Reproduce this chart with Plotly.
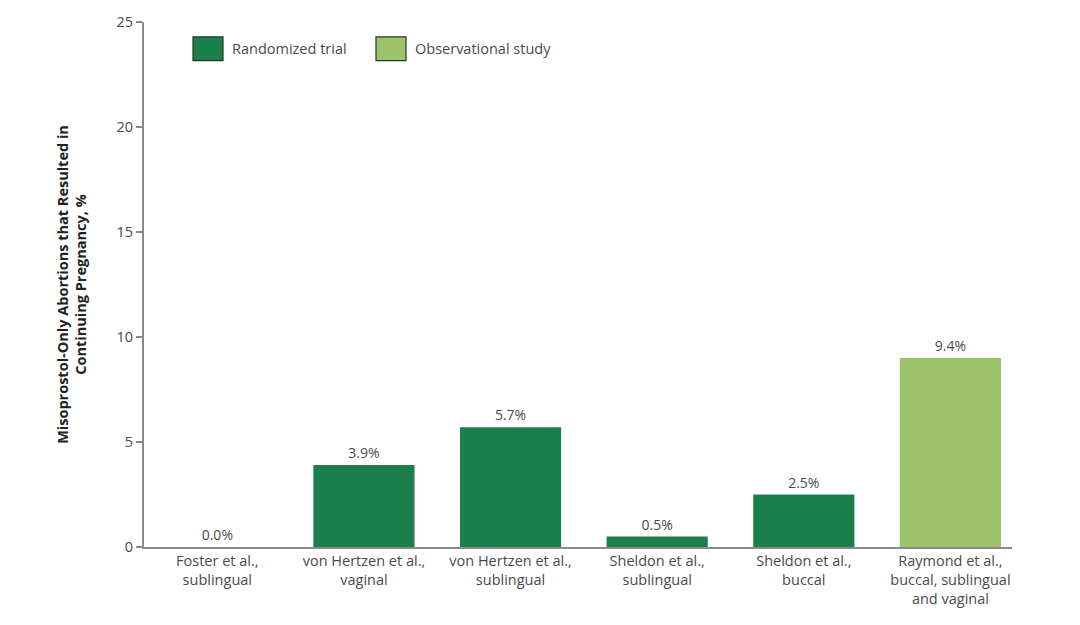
import plotly.graph_objects as go

categories = [
    "Foster et al.,<br>sublingual",
    "von Hertzen et al.,<br>vaginal",
    "von Hertzen et al.,<br>sublingual",
    "Sheldon et al.,<br>sublingual",
    "Sheldon et al.,<br>buccal",
    "Raymond et al.,<br>buccal, sublingual<br>and vaginal",
]
study_type = ["Randomized trial", "Randomized trial", "Randomized trial",
              "Randomized trial", "Randomized trial", "Observational study"]
bar_heights = [0.0, 3.9, 5.7, 0.5, 2.5, 9.0]
bar_labels = ["0.0%", "3.9%", "5.7%", "0.5%", "2.5%", "9.4%"]
y_ticks = [0, 5, 10, 15, 20, 25]
legend_names = ["Randomized trial", "Observational study"]

DARK = "#1b8049"
LIGHT = "#9cc36b"
colors = {"Randomized trial": DARK, "Observational study": LIGHT}
FONT = "Open Sans"
TXT = "#4a4a4a"

fig = go.Figure()
fig.add_trace(go.Bar(
    x=list(range(len(categories))),
    y=bar_heights,
    text=bar_labels,
    textposition="outside",
    cliponaxis=False,
    textfont=dict(family=FONT, size=14, color=TXT),
    marker=dict(color=[colors[s] for s in study_type], line=dict(width=0)),
    width=0.69,
    showlegend=False,
    hoverinfo="skip",
))

fig.update_layout(
    width=1080, height=625,
    margin=dict(l=144, r=68, t=18, b=78),
    paper_bgcolor="white", plot_bgcolor="white",
    font=dict(family=FONT, size=14, color=TXT),
)
fig.update_xaxes(
    range=[-0.50, 5.42],
    tickvals=list(range(len(categories))),
    ticktext=categories,
    showline=True, linecolor="#8a8a8a", linewidth=2,
    ticks="", showgrid=False, zeroline=False,
    tickfont=dict(family=FONT, size=14.5, color=TXT),
)
fig.update_yaxes(
    range=[0, 25],
    tickvals=y_ticks,
    showline=True, linecolor="#8a8a8a", linewidth=2,
    ticks="outside", ticklen=6, tickcolor="#8a8a8a", tickwidth=1.5,
    showgrid=False, zeroline=False,
    tickfont=dict(family=FONT, size=14.5, color=TXT),
    title=dict(
        text="<b>Misoprostol-Only Abortions that Resulted in<br>Continuing Pregnancy, %</b>",
        font=dict(family=FONT, size=14.5, color="#222"),
        standoff=26,
    ),
)

# custom legend
legend_x = [193, 376]
for name, lx in zip(legend_names, legend_x):
    fig.add_shape(type="rect", xref="paper", yref="paper",
                  x0=(lx - 144) / 868, x1=(lx + 30 - 144) / 868,
                  y0=(625 - 78 - 57) / 529, y1=(625 - 78 - 33) / 529,
                  fillcolor=colors[name], line=dict(color="#1e3d22", width=1.2))
    fig.add_annotation(xref="paper", yref="paper",
                       x=(lx + 37 - 144) / 868, y=(625 - 78 - 45) / 529,
                       text=name, showarrow=False, xanchor="left", yanchor="middle",
                       font=dict(family=FONT, size=14.5, color=TXT))

fig.write_html("out.html")
